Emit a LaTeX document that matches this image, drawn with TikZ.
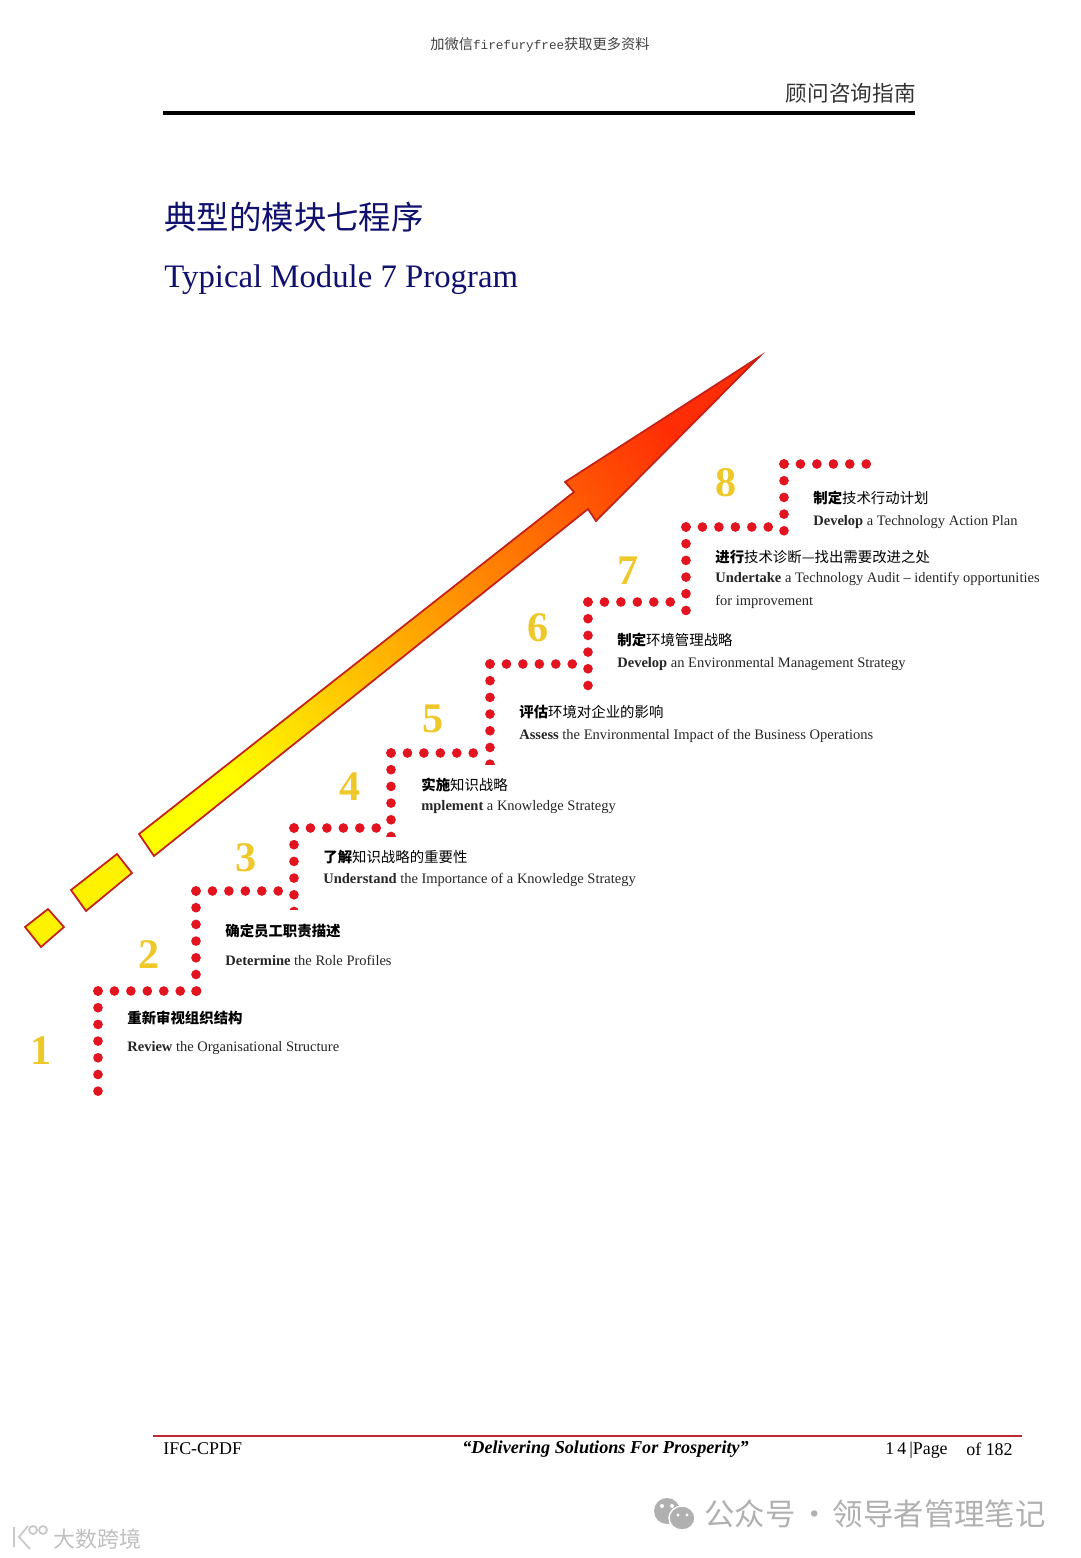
\documentclass[tikz,border=0pt]{standalone}
\usepackage{fontspec}
\setmainfont{Liberation Serif}
\newfontfamily\cjk{Noto Sans CJK SC}
\newfontfamily\monofam{Liberation Mono}
\usepackage{tikz}
\usepackage{xcolor}
\definecolor{dotred}{RGB}{226,20,32}
\definecolor{numgold}{RGB}{238,200,40}
\definecolor{arrowred}{RGB}{196,32,24}
\definecolor{tipred}{RGB}{255,45,5}
\definecolor{midorange}{RGB}{255,150,0}
\definecolor{titleblue}{RGB}{16,16,110}
\definecolor{footred}{RGB}{190,40,50}
\definecolor{markgray}{RGB}{176,176,176}
\tikzset{
  stepnum/.style={font=\fontsize{24}{24}\selectfont\bfseries,text=numgold,inner sep=0pt},
  stepcn/.style={anchor=west,inner sep=0pt,text=black,font=\fontsize{8.2}{10}\selectfont\cjk},
  stepen/.style={anchor=west,inner sep=0pt,text=black!85,font=\fontsize{8.25}{10}\selectfont},
  stairdots/.style={draw=dotred,line width=5.5pt,line cap=round,dash pattern=on 0pt off 9.36pt},
  stairdotsv/.style={stairdots,dash pattern=on 0pt off 9.5pt},
  blockpart/.style={draw=arrowred,line width=1pt,line join=miter,fill=yellow},
  pagetext/.style={anchor=west,inner sep=0pt,font=\fontsize{10.2}{12}\selectfont},
  markfont/.style={anchor=west,inner sep=0pt,text=markgray}
}
\begin{document}
\begin{tikzpicture}[x=0.02cm,y=-0.02cm]
  \useasboundingbox (0,0) rectangle (1080,1558);
  % page head
  \node[inner sep=0pt,text=black!75,font=\fontsize{8.1}{10}\selectfont] (wxline) at (540,45) {\cjk 加微信{\monofam\fontsize{7.2}{10}\selectfont firefuryfree}获取更多资料};
  \node[anchor=east,inner sep=0pt,text=black!80,font=\fontsize{12.3}{14}\selectfont\cjk] (guide) at (916,93) {顾问咨询指南};
  \draw[line width=2pt] (163,113) -- (915,113);
  \node[anchor=west,inner sep=0pt,text=titleblue,font=\fontsize{18.45}{20}\selectfont\cjk] (titlecn) at (164,217) {典型的模块七程序};
  \node[anchor=west,inner sep=0pt,text=titleblue,font=\fontsize{18.66}{22}\selectfont] (titleen) at (164,280) {Typical Module 7 Program};
  % big arrow
  \draw[blockpart] (25,927) -- (48,909) -- (64,927) -- (41,947) -- cycle;
  \draw[blockpart] (71,890) -- (117,854) -- (132,873) -- (86,911) -- cycle;
  \draw[draw=arrowred,line width=1pt,line join=miter,bottom color=yellow,middle color=midorange,top color=tipred,shading angle=-52]
    (139,834) -- (574,492) -- (565,482) -- (759,357) -- (596,521) -- (588,509) -- (154,856) -- cycle;
  % stairs
  \coordinate (s1) at (98,1097);  \coordinate (c1) at (98,991);  \coordinate (e1) at (198,991);
  \coordinate (s2) at (196,997);  \coordinate (c2) at (196,891); \coordinate (e2) at (280,891);
  \coordinate (s3) at (294,909);  \coordinate (c3) at (294,828); \coordinate (e3) at (379,828);
  \coordinate (s4) at (391,836);  \coordinate (c4) at (391,753); \coordinate (e4) at (476,753);
  \coordinate (s5) at (490,764);  \coordinate (c5) at (490,664); \coordinate (e5) at (575,664);
  \coordinate (s6) at (588,691);  \coordinate (c6) at (588,602); \coordinate (e6) at (673,602);
  \coordinate (s7) at (686,617);  \coordinate (c7) at (686,527); \coordinate (e7) at (771,527);
  \coordinate (s8) at (784,538);  \coordinate (c8) at (784,464); \coordinate (e8) at (869,464);
  \foreach \n in {1,...,8} {
    \begin{scope}
      \clip ([shift={(-12,-12)}]c\n) rectangle ([shift={(12,0)}]s\n);
      \draw[stairdotsv] (c\n) -- ++(0,125);
    \end{scope}
    \draw[stairdots] (c\n) -- (e\n);
  }
  % numbers
  \node[stepnum] (num1) at (41.5,1051) {1};
  \node[stepnum] (num2) at (149.5,955) {2};
  \node[stepnum] (num3) at (246.5,858) {3};
  \node[stepnum] (num4) at (350.5,787) {4};
  \node[stepnum] (num5) at (433.5,719) {5};
  \node[stepnum] (num6) at (538.5,628) {6};
  \node[stepnum] (num7) at (628.5,571) {7};
  \node[stepnum] (num8) at (726.5,483) {8};
  % step texts
  \node[stepcn] (cn1) at (127,1018) {\bfseries 重新审视组织结构};
  \node[stepen] (en1) at (127,1048) {\textbf{Review} the Organisational Structure};
  \node[stepcn] (cn2) at (225,931) {\bfseries 确定员工职责描述};
  \node[stepen] (en2) at (225,960) {\textbf{Determine} the Role Profiles};
  \node[stepcn] (cn3) at (323,857) {{\bfseries 了解}知识战略的重要性};
  \node[stepen] (en3) at (323,880) {\textbf{Understand} the Importance of a Knowledge Strategy};
  \node[stepcn] (cn4) at (421,785) {{\bfseries 实施}知识战略};
  \node[stepen] (en4) at (421,807) {\textbf{mplement} a Knowledge Strategy};
  \node[stepcn] (cn5) at (519,712) {{\bfseries 评估}环境对企业的影响};
  \node[stepen] (en5) at (519,736) {\textbf{Assess} the Environmental Impact of the Business Operations};
  \node[stepcn] (cn6) at (617,640) {{\bfseries 制定}环境管理战略};
  \node[stepen] (en6) at (617,664) {\textbf{Develop} an Environmental Management Strategy};
  \node[stepcn] (cn7) at (715,557) {{\bfseries 进行}技术诊断—找出需要改进之处};
  \node[stepen] (en7) at (715,579) {\textbf{Undertake} a Technology Audit -- identify opportunities};
  \node[stepen] (en7b) at (715,602) {for improvement};
  \node[stepcn] (cn8) at (813,498) {{\bfseries 制定}技术行动计划};
  \node[stepen] (en8) at (813,522) {\textbf{Develop} a Technology Action Plan};
  % page foot
  \draw[footred,line width=0.9pt] (153,1436) -- (1022,1436);
  \node[pagetext] (ifc) at (163,1449) {IFC-CPDF};
  \node[pagetext,font=\fontsize{10.35}{12}\selectfont\bfseries\itshape] (motto) at (462,1449) {“Delivering Solutions For Prosperity”};
  \node[pagetext] (pageno) at (885,1450) {1\,4\,|Page};
  \node[pagetext] (pageof) at (966,1449) {of 182};
  % watermarks
  \fill[markgray] (667,1511) ellipse (13 and 13);
  \draw[white,fill=markgray,line width=0.8pt] (682,1518) ellipse (13 and 12);
  \fill[white] (662,1506) circle (2) (672,1506) circle (2) (678,1515) circle (1.6) (687,1515) circle (1.6);
  \node[markfont,font=\fontsize{17.3}{20}\selectfont\cjk] (wxmark) at (704,1514) {公众号\kern2pt·\kern2pt领导者管理笔记};
  \draw[markgray!70,line width=1pt] (14,1527) -- (14,1547) (28,1526) -- (19,1537) -- (30,1549);
  \draw[markgray!70,line width=1pt] (33,1530) circle (4) (43,1530) circle (4);
  \node[markfont,text=markgray!80,font=\fontsize{12.5}{14}\selectfont\cjk] (dsmark) at (53,1539) {大数跨境};
\end{tikzpicture}
\end{document}
